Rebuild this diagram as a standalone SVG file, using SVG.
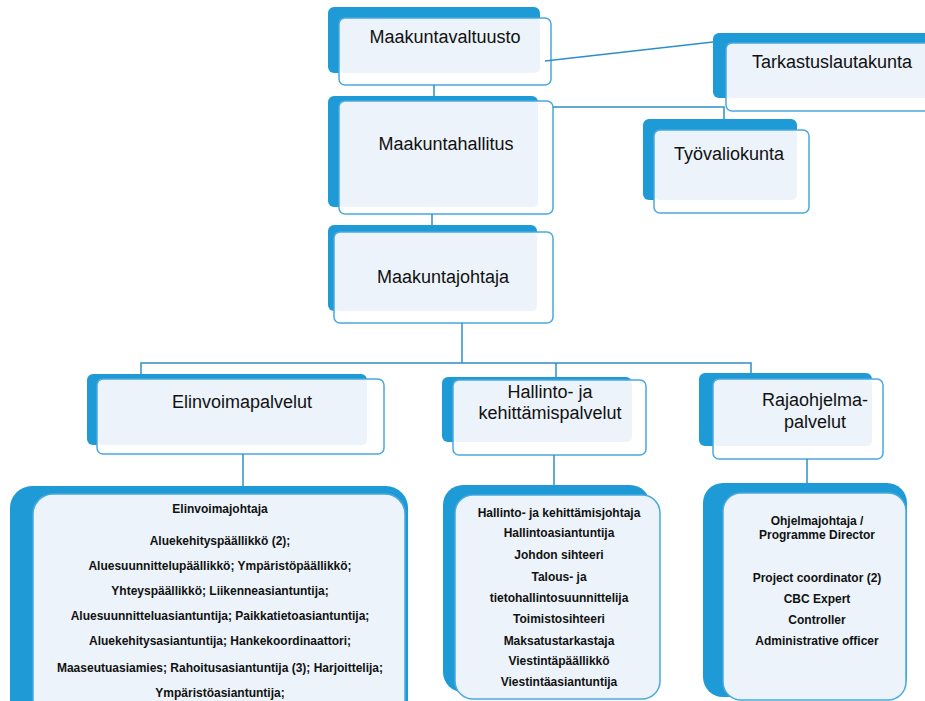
<svg xmlns="http://www.w3.org/2000/svg" width="925" height="701" viewBox="0 0 925 701">
<style>
.bk{fill:#1E9BD7}
.wh{fill:#FFFFFF}
.lt{fill:#ECF3FA}
.bd{fill:none;stroke:#4AA9DE;stroke-width:1.5}
.cn{fill:none;stroke:#2C8FC8;stroke-width:1.5}
.t1{font-family:"Liberation Sans",Arial,sans-serif;font-size:18px;fill:#111;text-anchor:middle}
.t2{font-family:"Liberation Sans",Arial,sans-serif;font-size:12px;font-weight:bold;fill:#111;text-anchor:middle}
</style>
<rect width="925" height="701" fill="#FFFFFF"/>

<g id="n-valtuusto">
<rect class="bk" x="328" y="7" width="212" height="66" rx="6"/>
<rect class="wh" x="339" y="18" width="212" height="67" rx="6"/>
<rect class="lt" x="339" y="18" width="201" height="55" rx="5"/>
<rect class="bd" x="339" y="18" width="212" height="67" rx="6"/>
<text class="t1" x="445" y="43">Maakuntavaltuusto</text>
</g>

<g id="n-tarkastus">
<rect class="bk" x="713" y="33" width="230" height="65" rx="6"/>
<rect class="wh" x="726" y="43" width="220" height="68" rx="6"/>
<rect class="lt" x="726" y="43" width="220" height="55" rx="5"/>
<rect class="bd" x="726" y="43" width="220" height="68" rx="6"/>
<text class="t1" x="832" y="68">Tarkastuslautakunta</text>
</g>

<g id="n-hallitus">
<rect class="bk" x="328" y="96" width="210" height="111" rx="6"/>
<rect class="wh" x="339" y="101" width="214" height="113" rx="6"/>
<rect class="lt" x="339" y="101" width="199" height="106" rx="5"/>
<rect class="bd" x="339" y="101" width="214" height="113" rx="6"/>
<text class="t1" x="446" y="150">Maakuntahallitus</text>
</g>

<g id="n-tyovaliokunta">
<rect class="bk" x="643" y="119" width="154" height="81" rx="6"/>
<rect class="wh" x="654" y="130" width="155" height="83" rx="6"/>
<rect class="lt" x="654" y="130" width="143" height="70" rx="5"/>
<rect class="bd" x="654" y="130" width="155" height="83" rx="6"/>
<text class="t1" x="729" y="160">Työvaliokunta</text>
</g>

<g id="n-johtaja">
<rect class="bk" x="328" y="225" width="209" height="86" rx="6"/>
<rect class="wh" x="334" y="232" width="219" height="91" rx="6"/>
<rect class="lt" x="334" y="232" width="203" height="79" rx="5"/>
<rect class="bd" x="334" y="232" width="219" height="91" rx="6"/>
<text class="t1" x="443" y="283">Maakuntajohtaja</text>
</g>

<g id="n-elinvoima">
<rect class="bk" x="87" y="374" width="280" height="71" rx="6"/>
<rect class="wh" x="97" y="379" width="287" height="75" rx="6"/>
<rect class="lt" x="97" y="379" width="270" height="66" rx="5"/>
<rect class="bd" x="97" y="379" width="287" height="75" rx="6"/>
<text class="t1" x="242" y="408">Elinvoimapalvelut</text>
</g>

<g id="n-hallinto">
<rect class="bk" x="442" y="377" width="190" height="65" rx="6"/>
<rect class="wh" x="453" y="380" width="193" height="75" rx="6"/>
<rect class="lt" x="453" y="380" width="179" height="62" rx="5"/>
<rect class="bd" x="453" y="380" width="193" height="75" rx="6"/>
<text class="t1" x="550" y="398">Hallinto- ja</text>
<text class="t1" x="550" y="419">kehittämispalvelut</text>
</g>

<g id="n-raja">
<rect class="bk" x="699" y="373" width="173" height="73" rx="6"/>
<rect class="wh" x="713" y="379" width="170" height="80" rx="6"/>
<rect class="lt" x="713" y="379" width="159" height="67" rx="5"/>
<rect class="bd" x="713" y="379" width="170" height="80" rx="6"/>
<text class="t1" x="815" y="406">Rajaohjelma-</text>
<text class="t1" x="815" y="428">palvelut</text>
</g>

<g id="n-elinvoima-staff">
<rect class="bk" x="10" y="486" width="398" height="240" rx="22"/>
<rect class="lt" x="33" y="494" width="372" height="240" rx="20"/>
<rect class="bd" x="33" y="494" width="372" height="240" rx="20"/>
<text class="t2" x="220" y="513">Elinvoimajohtaja</text>
<text class="t2" x="220" y="545">Aluekehityspäällikkö (2);</text>
<text class="t2" x="220" y="570">Aluesuunnittelupäällikkö; Ympäristöpäällikkö;</text>
<text class="t2" x="220" y="595">Yhteyspäällikkö; Liikenneasiantuntija;</text>
<text class="t2" x="220" y="620">Aluesuunnitteluasiantuntija; Paikkatietoasiantuntija;</text>
<text class="t2" x="220" y="645">Aluekehitysasiantuntija; Hankekoordinaattori;</text>
<text class="t2" x="220" y="672">Maaseutuasiamies; Rahoitusasiantuntija (3); Harjoittelija;</text>
<text class="t2" x="220" y="697">Ympäristöasiantuntija;</text>
</g>

<g id="n-hallinto-staff">
<rect class="bk" x="443" y="485" width="207" height="207" rx="20"/>
<rect class="lt" x="455" y="495" width="205" height="204" rx="18"/>
<rect class="bd" x="455" y="495" width="205" height="204" rx="18"/>
<text class="t2" x="559" y="517">Hallinto- ja kehittämisjohtaja</text>
<text class="t2" x="559" y="537">Hallintoasiantuntija</text>
<text class="t2" x="559" y="559">Johdon sihteeri</text>
<text class="t2" x="559" y="581">Talous- ja</text>
<text class="t2" x="559" y="602">tietohallintosuunnittelija</text>
<text class="t2" x="559" y="623">Toimistosihteeri</text>
<text class="t2" x="559" y="645">Maksatustarkastaja</text>
<text class="t2" x="559" y="665">Viestintäpäällikkö</text>
<text class="t2" x="559" y="686">Viestintäasiantuntija</text>
</g>

<g id="n-raja-staff">
<rect class="bk" x="703" y="483" width="204" height="214" rx="20"/>
<rect class="lt" x="723" y="493" width="183" height="207" rx="18"/>
<rect class="bd" x="723" y="493" width="183" height="207" rx="18"/>
<text class="t2" x="817" y="525">Ohjelmajohtaja /</text>
<text class="t2" x="817" y="539">Programme Director</text>
<text class="t2" x="817" y="582">Project coordinator (2)</text>
<text class="t2" x="817" y="603">CBC Expert</text>
<text class="t2" x="817" y="624">Controller</text>
<text class="t2" x="817" y="645">Administrative officer</text>
</g>

<g id="connectors">
<path class="cn" d="M434 85 V96"/>
<path class="cn" d="M545 61 L713 42"/>
<path class="cn" d="M553 107 H724 V119"/>
<path class="cn" d="M432 214 V225"/>
<path class="cn" d="M462 323 V363"/>
<path class="cn" d="M141 374 V363 H751 V373"/>
<path class="cn" d="M556 363 V377"/>
<path class="cn" d="M243 454 V486"/>
<path class="cn" d="M554 455 V485"/>
<path class="cn" d="M807 459 V483"/>
</g>
</svg>
